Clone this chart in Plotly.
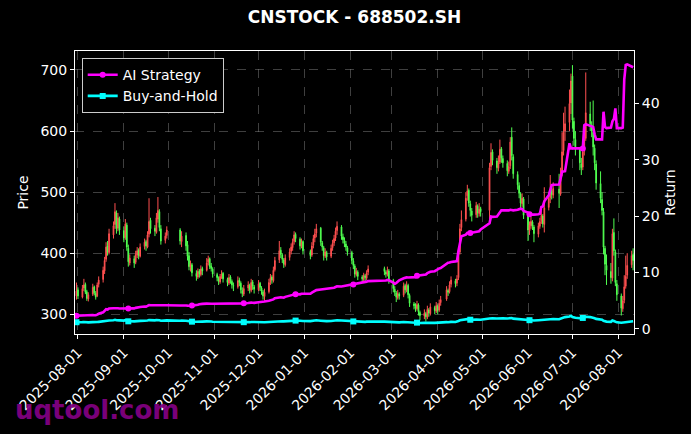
#### Grafico velas + retornos (CNSTOCK - 688502.SH) ####
import pandas as pd
import plotly.graph_objs as go

## dias de negociacion (se quitan feriados de la bolsa china)
festivos = ['2025-10-01', '2025-10-02', '2025-10-03', '2025-10-06', '2025-10-07', '2025-10-08',
            '2026-01-01', '2026-01-02',
            '2026-02-16', '2026-02-17', '2026-02-18', '2026-02-19', '2026-02-20', '2026-02-23',
            '2026-04-06', '2026-05-01', '2026-05-04', '2026-05-05', '2026-06-19']
fechas = [d for d in pd.bdate_range('2025-07-31', '2026-08-11') if d.strftime('%Y-%m-%d') not in festivos]

##### precios (una linea por mes) #####
apertura = [330,
    340, 328, 343, 349, 337, 325, 333, 345, 334, 330, 349, 357, 371, 390, 412, 401, 430, 447, 466, 441, 456,
    437, 426, 446, 408, 384, 391, 385, 397, 405, 395, 411, 419, 410, 431, 454, 441, 434, 456, 468, 440, 421, 429,
    438, 419, 429, 414, 396, 377, 381, 367, 361, 371, 365, 375, 372, 385, 391, 379, 374,
    365, 359, 353, 363, 367, 357, 351, 361, 354, 347, 345, 356, 351, 339, 333, 343, 347, 339, 353, 345,
    340, 351, 343, 337, 329, 337, 353, 361, 355, 373, 389, 405, 397, 389, 381, 393, 403, 409, 419, 431, 423, 411, 419,
    403, 397, 413, 425, 433, 441, 417, 409, 395, 401, 395, 409, 417, 425, 437, 443, 427, 421, 415, 409,
    401, 387, 379, 365, 369, 361, 357, 363, 359, 369, 375, 369, 365, 371,
    355, 341, 335, 327, 333, 331, 347, 339, 347, 331, 317, 313, 309, 315, 303, 297, 301, 295, 307, 301, 311, 305,
    313, 307, 319, 325, 339, 337, 349, 355, 351, 360, 402, 442, 456, 494, 503, 481, 469, 463, 477, 465, 473,
    470, 542, 566, 551, 539, 549, 571, 555, 547, 534, 543, 590, 558, 529, 511, 497, 481, 489,
    461, 437, 445, 451, 443, 431, 444, 453, 461, 447, 475, 491, 503, 495, 505, 497, 530, 568, 600, 614, 646,
    690, 616, 586, 570, 546, 541, 567, 588, 628, 610, 598, 572, 546, 514, 488, 468, 408, 380, 370, 359, 434, 402, 350,
    330, 309, 323, 346, 364, 381, 398]
maximo = [352,
    344, 348, 358, 352, 340, 336, 350, 347, 338, 352, 362, 378, 394, 418, 420, 440, 452, 482, 470, 466, 460,
    444, 456, 450, 414, 398, 396, 404, 410, 408, 416, 424, 422, 436, 490, 458, 446, 466, 492, 472, 446, 434, 444,
    441, 436, 434, 420, 402, 388, 384, 372, 375, 374, 380, 378, 392, 396, 393, 384, 377,
    368, 362, 366, 372, 369, 360, 366, 364, 357, 352, 362, 360, 354, 344, 348, 354, 350, 358, 356, 348,
    356, 353, 346, 340, 342, 358, 366, 364, 378, 394, 420, 410, 400, 392, 398, 408, 416, 424, 436, 434, 426, 424, 421,
    406, 418, 430, 440, 448, 443, 420, 412, 408, 404, 414, 422, 430, 442, 452, 446, 432, 426, 420, 412,
    404, 392, 382, 376, 372, 364, 368, 366, 372, 380, 378, 372, 378, 374,
    358, 346, 338, 340, 336, 352, 350, 354, 350, 334, 320, 318, 322, 318, 306, 308, 304, 314, 310, 318, 314, 320,
    316, 324, 330, 346, 342, 354, 362, 358, 364, 406, 448, 470, 500, 512, 506, 486, 474, 484, 480, 482, 476,
    548, 580, 570, 556, 560, 586, 574, 560, 552, 550, 590, 606, 562, 534, 516, 500, 498, 492,
    466, 452, 460, 454, 446, 450, 458, 470, 464, 508, 498, 528, 510, 516, 530, 540, 598, 630, 640, 668, 694,
    708, 622, 600, 574, 556, 578, 596, 696, 648, 616, 650, 578, 552, 534, 500, 474, 412, 398, 384, 440, 457, 406, 356,
    334, 330, 364, 396, 400, 404, 408]
minimo = [324,
    325, 326, 338, 333, 322, 321, 330, 331, 324, 328, 344, 352, 366, 386, 396, 398, 424, 440, 432, 436, 430,
    418, 422, 404, 378, 380, 376, 382, 392, 390, 393, 406, 404, 408, 426, 432, 428, 432, 450, 436, 414, 416, 424,
    414, 410, 404, 388, 372, 370, 362, 355, 358, 360, 362, 364, 370, 380, 374, 370, 360,
    354, 348, 350, 358, 352, 346, 348, 350, 342, 338, 342, 346, 334, 328, 330, 338, 334, 336, 340, 334,
    338, 338, 332, 324, 322, 334, 348, 350, 352, 370, 384, 392, 384, 376, 378, 388, 398, 404, 414, 418, 406, 408, 398,
    390, 394, 408, 418, 426, 412, 404, 388, 392, 388, 392, 404, 412, 420, 430, 422, 416, 410, 404, 396,
    382, 374, 360, 362, 356, 352, 354, 354, 356, 364, 364, 360, 362, 350,
    336, 330, 320, 324, 324, 328, 334, 336, 326, 312, 308, 304, 306, 298, 290, 292, 288, 292, 296, 298, 300, 302,
    300, 304, 314, 322, 330, 334, 344, 344, 346, 356, 398, 436, 452, 486, 476, 460, 452, 458, 458, 460, 460,
    456, 536, 544, 530, 534, 546, 548, 540, 526, 530, 538, 552, 522, 504, 490, 474, 476, 456,
    420, 430, 440, 438, 418, 426, 440, 448, 442, 434, 470, 482, 488, 490, 474, 494, 526, 560, 584, 600, 628,
    604, 576, 560, 536, 528, 536, 560, 584, 600, 590, 560, 536, 504, 482, 462, 398, 364, 348, 350, 354, 396, 346, 322,
    298, 304, 318, 342, 358, 376, 372]
cierre = [338,
    330, 342, 348, 336, 326, 332, 344, 335, 328, 348, 356, 372, 388, 410, 402, 432, 445, 468, 440, 458, 438,
    425, 448, 410, 386, 392, 384, 398, 404, 396, 410, 418, 412, 430, 452, 440, 436, 458, 470, 442, 420, 428, 438,
    420, 428, 412, 395, 378, 382, 368, 362, 370, 366, 374, 371, 384, 390, 378, 375, 366,
    360, 354, 362, 366, 358, 352, 360, 355, 348, 346, 355, 352, 340, 334, 342, 348, 340, 352, 346, 341,
    350, 344, 338, 330, 336, 352, 360, 356, 372, 388, 404, 398, 390, 382, 392, 402, 410, 418, 430, 424, 412, 418, 404,
    396, 412, 424, 432, 440, 418, 410, 396, 402, 394, 408, 416, 424, 436, 444, 428, 422, 416, 410, 402,
    388, 380, 366, 370, 362, 358, 364, 360, 368, 374, 370, 366, 372, 356,
    342, 336, 328, 334, 330, 346, 340, 348, 332, 318, 314, 310, 316, 304, 298, 302, 296, 308, 302, 312, 306, 314,
    306, 318, 324, 340, 336, 348, 356, 350, 358, 400, 440, 455, 490, 502, 482, 470, 462, 478, 466, 472, 468,
    540, 565, 552, 540, 548, 570, 556, 548, 535, 542, 582, 560, 530, 512, 498, 482, 490, 462,
    438, 446, 452, 444, 432, 445, 452, 462, 448, 474, 490, 502, 496, 506, 498, 528, 566, 598, 612, 645, 682,
    618, 588, 572, 548, 540, 566, 586, 630, 612, 600, 574, 548, 515, 490, 470, 410, 382, 372, 360, 432, 404, 352, 332,
    310, 322, 345, 362, 380, 396, 388]

##### retornos acumulados #####
ret_ia = [2.30,
    2.32, 2.35, 2.38, 2.36, 2.34, 2.36, 2.42, 2.40, 2.38, 2.50, 2.65, 2.90, 3.15, 3.45, 3.40, 3.60, 3.62, 3.66, 3.58, 3.62, 3.58,
    3.55, 3.62, 3.60, 3.58, 3.62, 3.60, 3.70, 3.78, 3.75, 3.85, 3.95, 3.92, 4.05, 4.20, 4.15, 4.12, 4.18, 4.22, 4.15, 4.10, 4.12, 4.15,
    4.12, 4.15, 4.12, 4.10, 4.05, 4.08, 4.10, 4.12, 4.25, 4.35, 4.42, 4.40, 4.45, 4.48, 4.45, 4.44, 4.42,
    4.42, 4.40, 4.45, 4.48, 4.46, 4.45, 4.50, 4.48, 4.46, 4.45, 4.50, 4.48, 4.46, 4.45, 4.50, 4.55, 4.52, 4.62, 4.60, 4.58,
    4.68, 4.75, 4.80, 4.78, 4.82, 4.95, 5.05, 5.02, 5.20, 5.40, 5.60, 5.58, 5.55, 5.52, 5.65, 5.80, 5.92, 6.00, 6.15, 6.12, 6.10, 6.20, 6.18,
    6.20, 6.40, 6.55, 6.70, 6.85, 6.95, 6.98, 6.95, 7.05, 7.02, 7.10, 7.20, 7.28, 7.40, 7.52, 7.50, 7.55, 7.60, 7.65, 7.72,
    7.80, 7.85, 7.90, 8.00, 8.05, 8.10, 8.20, 8.25, 8.35, 8.45, 8.50, 8.55, 8.65, 8.60,
    8.20, 7.95, 8.10, 8.40, 8.60, 8.95, 9.05, 9.10, 9.08, 9.10, 9.12, 9.15, 9.40, 9.45, 9.50, 9.60, 9.62, 9.85, 10.00, 10.10, 10.20, 10.40,
    10.50, 10.70, 10.75, 11.60, 11.70, 11.75, 11.85, 11.95, 12.00, 13.80, 15.20, 16.40, 16.70, 17.00, 16.95, 17.00, 17.05, 17.10, 17.15, 17.30, 17.60,
    18.70, 19.90, 19.85, 19.90, 20.20, 20.60, 21.00, 21.00, 20.95, 21.00, 21.10, 21.05, 21.00, 21.10, 21.20, 21.30, 21.25, 20.90,
    20.60, 20.30, 20.25, 20.30, 20.25, 20.30, 20.40, 21.60, 21.70, 22.60, 23.70, 24.60, 25.50, 25.55, 25.60, 26.60, 27.90, 27.90, 27.95, 32.90, 32.00,
    32.00, 32.00, 32.00, 32.00, 32.00, 32.00, 36.10, 36.30, 36.00, 35.90, 35.80, 34.50, 33.60, 33.60, 33.60, 38.50, 35.80, 35.60, 35.70, 36.80, 37.20, 39.10, 35.60,
    35.60, 35.70, 44.20, 46.80, 46.90, 46.60, 46.40]
ret_bh = [1.15,
    1.12, 1.16, 1.18, 1.14, 1.11, 1.13, 1.17, 1.14, 1.12, 1.18, 1.21, 1.26, 1.32, 1.39, 1.36, 1.46, 1.51, 1.58, 1.49, 1.55, 1.48,
    1.44, 1.52, 1.39, 1.31, 1.33, 1.30, 1.35, 1.37, 1.34, 1.39, 1.42, 1.40, 1.46, 1.53, 1.49, 1.48, 1.55, 1.59, 1.50, 1.42, 1.45, 1.48,
    1.42, 1.45, 1.40, 1.34, 1.28, 1.30, 1.25, 1.23, 1.26, 1.24, 1.27, 1.26, 1.30, 1.32, 1.28, 1.27, 1.24,
    1.22, 1.20, 1.23, 1.24, 1.22, 1.20, 1.22, 1.21, 1.18, 1.18, 1.21, 1.20, 1.16, 1.14, 1.16, 1.18, 1.16, 1.20, 1.18, 1.16,
    1.19, 1.17, 1.15, 1.12, 1.14, 1.20, 1.22, 1.21, 1.26, 1.32, 1.37, 1.35, 1.32, 1.30, 1.33, 1.36, 1.39, 1.42, 1.46, 1.44, 1.40, 1.42, 1.37,
    1.34, 1.40, 1.44, 1.46, 1.49, 1.42, 1.39, 1.34, 1.36, 1.34, 1.38, 1.41, 1.44, 1.48, 1.50, 1.45, 1.43, 1.41, 1.39, 1.36,
    1.32, 1.29, 1.24, 1.26, 1.23, 1.22, 1.24, 1.22, 1.25, 1.27, 1.26, 1.24, 1.26, 1.21,
    1.16, 1.14, 1.12, 1.14, 1.12, 1.18, 1.16, 1.18, 1.13, 1.08, 1.07, 1.06, 1.08, 1.04, 1.02, 1.03, 1.01, 1.05, 1.03, 1.06, 1.04, 1.07,
    1.04, 1.08, 1.10, 1.16, 1.14, 1.18, 1.21, 1.19, 1.22, 1.36, 1.49, 1.54, 1.66, 1.70, 1.63, 1.59, 1.56, 1.62, 1.58, 1.60, 1.58,
    1.82, 1.91, 1.86, 1.82, 1.85, 1.92, 1.88, 1.85, 1.81, 1.83, 1.96, 1.89, 1.79, 1.73, 1.68, 1.63, 1.66, 1.56,
    1.48, 1.51, 1.53, 1.50, 1.46, 1.51, 1.53, 1.56, 1.52, 1.60, 1.66, 1.70, 1.68, 1.71, 1.68, 1.78, 1.91, 2.02, 2.06, 2.17, 2.30,
    2.08, 1.98, 1.93, 1.85, 1.82, 1.91, 1.98, 2.12, 2.06, 2.02, 1.94, 1.85, 1.74, 1.66, 1.59, 1.39, 1.30, 1.26, 1.22, 1.46, 1.37, 1.20, 1.13,
    1.06, 1.10, 1.17, 1.23, 1.29, 1.34, 1.32]

## verificar que todo tenga el mismo largo
for serie in [apertura, maximo, minimo, cierre, ret_ia, ret_bh]:
    assert len(serie) == len(fechas), (len(serie), len(fechas))

cada = 25  ### marcador cada 25 dias (como markevery)

velas = go.Candlestick(x=fechas, open=apertura, high=maximo, low=minimo, close=cierre,
                       increasing=dict(line=dict(color='#ff5050', width=1), fillcolor='#ff5050'),
                       decreasing=dict(line=dict(color='#50ff50', width=1), fillcolor='#50ff50'),
                       showlegend=False, yaxis='y')

data = [velas]
for nombre, serie, color, simbolo in [('AI Strategy', ret_ia, '#ff00ff', 'circle'),
                                      ('Buy-and-Hold', ret_bh, '#00ffff', 'square')]:
    data.append(go.Scatter(x=fechas, y=serie, mode='lines', line=dict(color=color, width=2.6),
                           yaxis='y2', showlegend=False, legendgroup=nombre, hoverinfo='skip'))
    data.append(go.Scatter(x=fechas[::cada], y=serie[::cada], mode='markers',
                           marker=dict(color=color, size=6, symbol=simbolo),
                           yaxis='y2', showlegend=False, legendgroup=nombre, hoverinfo='skip'))
    ## solo para la leyenda
    data.append(go.Scatter(x=[None], y=[None], mode='lines+markers', name=nombre,
                           line=dict(color=color, width=2.6), marker=dict(color=color, size=6, symbol=simbolo),
                           yaxis='y2', legendgroup=nombre))

fuente = dict(family='DejaVu Sans', size=14, color='white')
eje = dict(showline=True, linecolor='white', linewidth=1, ticks='outside', ticklen=4, tickcolor='white',
           tickfont=fuente, zeroline=False, automargin=False)

Layout = go.Layout(
    width=691, height=434,
    margin=dict(l=75, r=57, t=51, b=100),
    paper_bgcolor='black', plot_bgcolor='black',
    font=fuente,
    title=dict(text='<b>CNSTOCK - 688502.SH</b>', x=0.5, xref='paper', y=1 - 17.5 / 434, yanchor='middle',
               font=dict(family='DejaVu Sans', size=17, color='white')),
    xaxis=dict(eje, type='date', range=['2025-07-30', '2026-08-11 14:00'], rangeslider=dict(visible=False),
               tick0='2025-08-01', dtick='M1', tickformat='%Y-%m-%d', tickangle=-45, mirror=True,
               showgrid=True, gridcolor='rgba(140,140,140,0.45)', gridwidth=0.6, griddash='dash'),
    yaxis=dict(eje, range=[267.7, 731.1], tickvals=[300, 400, 500, 600, 700],
               title=dict(text='Price', font=fuente, standoff=8),
               showgrid=True, gridcolor='rgba(140,140,140,0.45)', gridwidth=0.6, griddash='dash'),
    yaxis2=dict(eje, overlaying='y', side='right', range=[-0.94, 49.28], tickvals=[0, 10, 20, 30, 40],
                title=dict(text='Return', font=fuente, standoff=6), showgrid=False),
    legend=dict(x=0.012, y=0.975, xanchor='left', yanchor='top', bgcolor='black',
                bordercolor='#cccccc', borderwidth=1, font=fuente, tracegroupgap=0),
    annotations=[dict(text='<b>uqtool.com</b>', xref='paper', yref='paper', x=0.039, y=-0.27,
                      xanchor='center', yanchor='middle', showarrow=False,
                      font=dict(family='DejaVu Sans', size=26, color='rgba(130,0,130,0.95)'))]
)

fig = go.Figure(data, Layout)
## quitar el margen del body para que el grafico quede en (0,0), sin barra de herramientas
fig.write_html("out.html", config={'displayModeBar': False},
               post_script="document.body.style.margin='0';")
